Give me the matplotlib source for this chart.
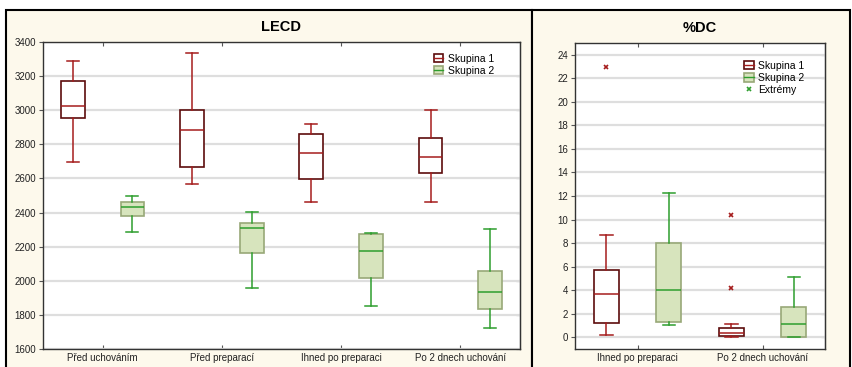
import numpy as np
import matplotlib
matplotlib.use("Agg")
import matplotlib.pyplot as plt
from matplotlib.patches import Rectangle, Patch
from matplotlib.lines import Line2D

plt.rcParams['font.family'] = ['Liberation Sans', 'DejaVu Sans']

#%% data - LECD
lecd_cats = ['Před uchováním', 'Před preparací', 'Ihned po preparaci', 'Po 2 dnech uchování']
# Skupina 1: whislo, q1, med, q3, whishi
lecd_s1_lo = [2696, 2570, 2463, 2463]
lecd_s1_q1 = [2956, 2668, 2598, 2631]
lecd_s1_med = [3022, 2882, 2747, 2725]
lecd_s1_q3 = [3171, 3001, 2860, 2835]
lecd_s1_hi = [3287, 3335, 2921, 2999]
# Skupina 2
lecd_s2_lo = [2285, 1960, 1850, 1725]
lecd_s2_q1 = [2379, 2161, 2015, 1835]
lecd_s2_med = [2435, 2308, 2173, 1935]
lecd_s2_q3 = [2461, 2338, 2273, 2060]
lecd_s2_hi = [2498, 2404, 2283, 2306]

#%% data - %DC
dc_cats = ['Ihned po preparaci', 'Po 2 dnech uchování']
dc_s1_lo = [0.2, 0.0]
dc_s1_q1 = [1.25, 0.11]
dc_s1_med = [3.68, 0.37]
dc_s1_q3 = [5.72, 0.79]
dc_s1_hi = [8.66, 1.10]
dc_s1_ext = [[22.98], [10.42, 4.22]]
dc_s2_lo = [1.08, 0.0]
dc_s2_q1 = [1.30, 0.0]
dc_s2_med = [4.02, 1.13]
dc_s2_q3 = [7.98, 2.58]
dc_s2_hi = [12.23, 5.12]
dc_s2_ext = [[], []]

#%% styles
red_edge = '#5c0c0c'
red_line = '#a51c1c'
green_face = '#d7e4bd'
green_edge = '#98a878'
green_line = '#2e9e2e'
panel_bg = '#fdf9ec'


def stats(lo, q1, med, q3, hi, ext=None):
    out = []
    for i in range(len(lo)):
        out.append(dict(whislo=lo[i], q1=q1[i], med=med[i], q3=q3[i], whishi=hi[i],
                        fliers=(ext[i] if ext else [])))
    return out


def draw_group(ax, st, pos, face, edge, line):
    ax.bxp(st, positions=pos, widths=0.2, capwidths=0.1, patch_artist=True,
           boxprops=dict(facecolor=face, edgecolor=edge, lw=1.2),
           medianprops=dict(color=line, lw=1.1),
           whiskerprops=dict(color=line, lw=1.1),
           capprops=dict(color=line, lw=1.1),
           flierprops=dict(marker='x', markersize=3.5, markeredgecolor=red_line, mew=1.2),
           manage_ticks=False)


def style_axes(ax, ylim, yticks, cats, title):
    ax.set_xlim(-0.5, len(cats) - 0.5)
    ax.set_ylim(*ylim)
    ax.set_yticks(yticks)
    ax.set_xticks(np.arange(len(cats)))
    ax.set_xticklabels(cats)
    ax.tick_params(labelsize=7, length=3, color='#555555', labelcolor='#222222')
    ax.tick_params(axis='x', direction='in', top=True, pad=3)
    ax.tick_params(axis='y', direction='out', pad=2)
    sec = ax.secondary_yaxis('right')
    sec.set_yticks(yticks)
    sec.tick_params(direction='in', length=3, labelright=False, color='#555555')
    sec.spines['right'].set_color('#333333')
    ax.set_axisbelow(True)
    ax.yaxis.grid(True, color='#dedede', lw=1.6)
    for s in ax.spines.values():
        s.set_color('#333333')
        s.set_linewidth(1.0)
    ax.set_facecolor('white')
    ax.set_title(title, fontsize=10.5, fontweight='bold', pad=8)


fig = plt.figure(figsize=(8.52, 3.67), dpi=100)
fig.patch.set_facecolor('white')
W, H = 852, 367
for x0, x1 in [(5.5, 532), (532, 849.5)]:
    fig.patches.append(Rectangle((x0 / W, -0.05), (x1 - x0) / W, 1.05 - 9.5 / H,
                                 transform=fig.transFigure, facecolor=panel_bg,
                                 edgecolor='black', lw=1.5, zorder=-10))

ax1 = fig.add_axes([43 / W, 1 - 349 / H, 477 / W, 307 / H])
ax2 = fig.add_axes([575 / W, 1 - 349 / H, 250 / W, 306 / H])

x1 = np.arange(len(lecd_cats))
draw_group(ax1, stats(lecd_s1_lo, lecd_s1_q1, lecd_s1_med, lecd_s1_q3, lecd_s1_hi),
           x1 - 0.25, 'white', red_edge, red_line)
draw_group(ax1, stats(lecd_s2_lo, lecd_s2_q1, lecd_s2_med, lecd_s2_q3, lecd_s2_hi),
           x1 + 0.25, green_face, green_edge, green_line)
style_axes(ax1, (1600, 3400), np.arange(1600, 3401, 200), lecd_cats, 'LECD')

x2 = np.arange(len(dc_cats))
draw_group(ax2, stats(dc_s1_lo, dc_s1_q1, dc_s1_med, dc_s1_q3, dc_s1_hi, dc_s1_ext),
           x2 - 0.25, 'white', red_edge, red_line)
draw_group(ax2, stats(dc_s2_lo, dc_s2_q1, dc_s2_med, dc_s2_q3, dc_s2_hi, dc_s2_ext),
           x2 + 0.25, green_face, green_edge, green_line)
style_axes(ax2, (-1, 25), np.arange(0, 25, 2), dc_cats, '%DC')

# legends
h1 = (Patch(facecolor='white', edgecolor=red_edge, lw=1.2), Line2D([], [], color=red_line, lw=1))
h2 = (Patch(facecolor=green_face, edgecolor=green_edge, lw=1.2), Line2D([], [], color=green_line, lw=1))
h3 = Line2D([], [], ls='none', marker='x', markersize=3.5, markeredgecolor=green_line, mew=1.2)
leg_kw = dict(frameon=False, fontsize=7.5, handlelength=0.95, handleheight=0.85,
              handletextpad=0.4, labelspacing=0.2, borderaxespad=0)
ax1.legend([h1, h2], ['Skupina 1', 'Skupina 2'], loc='upper left',
           bbox_to_anchor=(0.81, 0.975), **leg_kw)
ax2.legend([h1, h2, h3], ['Skupina 1', 'Skupina 2', 'Extrémy'], loc='upper left',
           bbox_to_anchor=(0.66, 0.955), **leg_kw)

fig.savefig('out.png', dpi=100, facecolor=fig.get_facecolor())
